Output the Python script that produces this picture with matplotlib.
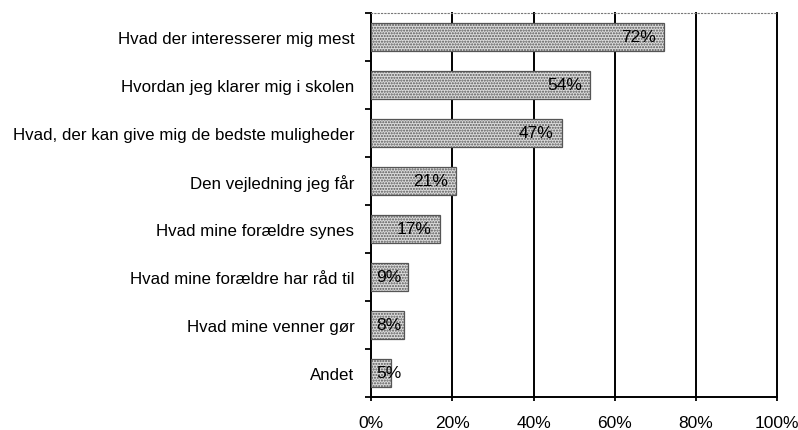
import numpy as np
import matplotlib.pyplot as plt
from matplotlib.ticker import FuncFormatter

plt.rcParams['font.family'] = ['Liberation Sans', 'DejaVu Sans']
plt.rcParams['hatch.linewidth'] = 1.0

# Data
categories = ['Hvad der interesserer mig mest',
              'Hvordan jeg klarer mig i skolen',
              'Hvad, der kan give mig de bedste muligheder',
              'Den vejledning jeg får',
              'Hvad mine forældre synes',
              'Hvad mine forældre har råd til',
              'Hvad mine venner gør',
              'Andet']
values = [72, 54, 47, 21, 17, 9, 8, 5]
xticks = [0, 20, 40, 60, 80, 100]

fig = plt.figure(figsize=(7.98, 4.31), dpi=100)
ax = fig.add_axes([0.465, 0.0766, 0.509, 0.891])

y = np.arange(len(categories))
ax.barh(y, values, height=0.58, color='#dcdcdc', edgecolor='#555555',
        hatch='......', linewidth=0.9, zorder=3)

for yi, v in zip(y, values):
    ax.text(max(v - 2, 7.5), yi, f'{v}%', ha='right', va='center',
            fontsize=12.5, color='black', zorder=4)

ax.set_xlim(0, 100)
ax.set_ylim(len(categories) - 0.5, -0.5)
ax.set_xticks(xticks)
ax.xaxis.set_major_formatter(FuncFormatter(lambda x, p: f'{x:.0f}%'))
ax.tick_params(axis='x', length=3, width=1.3, pad=10, labelsize=12.5,
               labelcolor='black')

# category labels with ticks at the boundaries
ax.set_yticks(y)
ax.set_yticklabels(categories, fontsize=12.2, color='black')
ax.tick_params(axis='y', which='major', length=0, pad=12)
ax.set_yticks(np.arange(-0.5, len(categories), 1), minor=True)
ax.tick_params(axis='y', which='minor', length=4, width=1.3)

for xv in xticks[1:]:
    ax.axvline(xv, color='black', linewidth=1.4, zorder=1, clip_on=False)

ax.spines['left'].set_linewidth(1.4)
ax.spines['bottom'].set_linewidth(1.4)
ax.spines['right'].set_visible(False)
ax.spines['top'].set_linestyle((0, (1, 2)))
ax.spines['top'].set_color('#777777')
ax.spines['top'].set_linewidth(0.8)

fig.savefig('out.png', dpi=100)
